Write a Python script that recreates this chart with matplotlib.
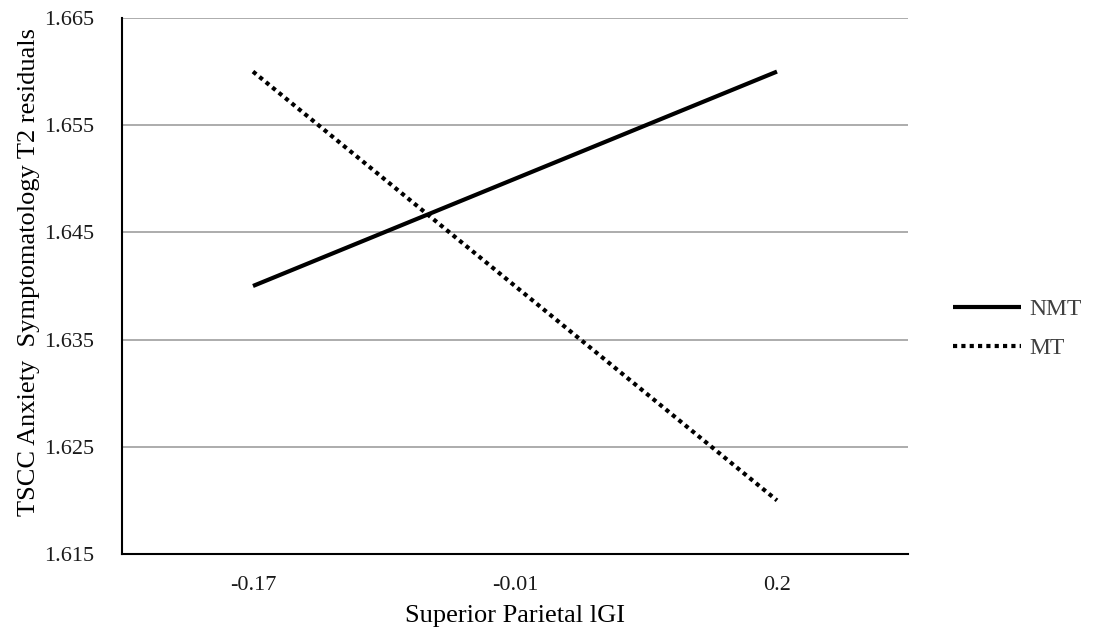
import numpy as np
import matplotlib.pyplot as plt

plt.rcParams['font.family'] = ['Liberation Serif', 'DejaVu Serif']

categories = ['-0.17', '-0.01', '0.2']
nmt = [1.640, 1.650, 1.660]
mt = [1.660, 1.640, 1.620]
yticks = [1.615, 1.625, 1.635, 1.645, 1.655, 1.665]

fig = plt.figure(figsize=(10.97, 6.33), dpi=100)
ax = fig.add_axes([0.1112, 0.1248, 0.7165, 0.8468])

x = np.arange(len(categories))
ax.plot(x, nmt, color='black', lw=3, solid_capstyle='butt', label='NMT')
ax.plot(x, mt, color='black', lw=3, dashes=(1, 1), dash_capstyle='butt', label='MT')

ax.set_xlim(-0.5, len(categories) - 0.5)
ax.set_ylim(1.615, 1.665)
ax.set_xticks(x)
ax.set_xticklabels(categories)
ax.set_yticks(yticks)
ax.set_yticklabels([f'{v:.3f}' for v in yticks])
ax.tick_params(length=0, labelsize=16, colors='#1a1a1a')
ax.tick_params(axis='y', pad=20)
ax.tick_params(axis='x', pad=16)

ax.grid(axis='y', color='#a6a6a6', lw=1.3)
ax.set_axisbelow(True)
for s in ['top', 'right']:
    ax.spines[s].set_visible(False)
for s in ['left', 'bottom']:
    ax.spines[s].set_linewidth(1.5)

ax.set_xlabel('Superior Parietal lGI', fontsize=19)
ax.xaxis.set_label_coords(0.5, -0.095)
ax.set_ylabel('TSCC Anxiety  Symptomatology T2 residuals', fontsize=19)
ax.yaxis.set_label_coords(-0.104, 0.526)

leg = ax.legend(loc='center left', bbox_to_anchor=(1.03, 0.42), frameon=False,
                fontsize=17, handlelength=2.9, handletextpad=0.35, labelspacing=0.75)
for t in leg.get_texts():
    t.set_color('#404040')

fig.savefig('out.png', dpi=100)
